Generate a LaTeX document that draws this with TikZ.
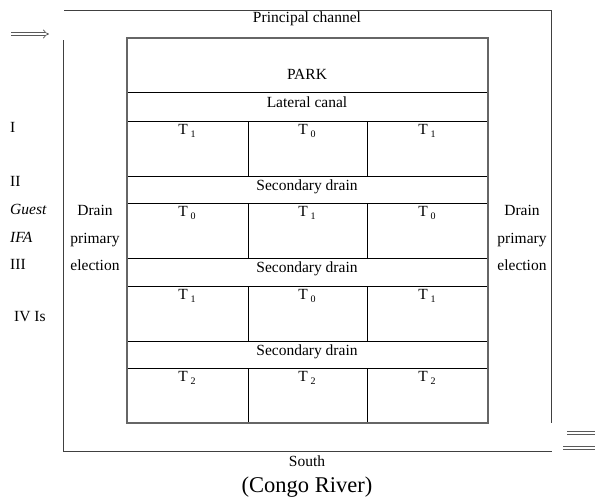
\documentclass[tikz,border=0pt]{standalone}
\usepackage{fontspec}
\setmainfont{Liberation Serif}
\usetikzlibrary{arrows.meta}
\tikzstyle{txt} = [inner sep=0pt, font=\fontsize{15.5}{18}\selectfont]
\tikzstyle{side} = [txt, align=center, font=\fontsize{15.5}{27.5}\selectfont]
\tikzstyle{channel} = [draw=black!75, line width=0.9pt]
\tikzstyle{flow} = [draw=black!65, double, double distance=2.4pt, line width=0.7pt]
\newcommand{\Tsub}[1]{T\,\raisebox{-2.5pt}{\fontsize{10}{10}\selectfont #1}}

\begin{document}
\begin{tikzpicture}[x=1pt, y=-1pt]
  \useasboundingbox (0,0) rectangle (595,499);

  % Channels around the park
  \draw[channel] (64,10) -- (551,10) -- (551,423);
  \draw[channel] (63,40) -- (63,451) -- (552,451);

  % Flow arrows
  \coordinate (in1) at (11,34);
  \coordinate (in2) at (49,34);
  \coordinate (out1) at (567,433);
  \coordinate (out2) at (600,433);
  \coordinate (out3) at (563,448);
  \coordinate (out4) at (600,448);
  \draw[flow, -{Implies}] (in1) -- (in2);
  \draw[flow] (out1) -- (out2);
  \draw[flow] (out3) -- (out4);

  % Park outline and rows
  \draw[line width=0.8pt] (127,92) -- (488,92);
  \foreach \y in {121,176,203,258,286,341,368}
    \draw[line width=0.8pt] (127,\y) -- (488,\y);
  \foreach \y in {121,203,286,368}{
    \draw[line width=0.8pt] (248,\y) -- (248,\y+55);
    \draw[line width=0.8pt] (367,\y) -- (367,\y+55);
  }
  \draw[draw=black!60, line width=1.2pt] (127,38) rectangle (488,423);

  % Plots
  \foreach \y/\a/\b/\c [count=\r] in {131/1/0/1, 213/0/1/0, 296/1/0/1, 378/2/2/2}{
    \node[txt] (p\r a) at (187,\y) {\Tsub{\a}};
    \node[txt] (p\r b) at (307,\y) {\Tsub{\b}};
    \node[txt] (p\r c) at (427,\y) {\Tsub{\c}};
  }

  % Labels
  \node[txt] (princ) at (307,19) {Principal channel};
  \node[txt] (park) at (307,74) {PARK};
  \node[txt] (lat) at (307,102) {Lateral canal};
  \node[txt] (sec1) at (307,187) {Secondary drain};
  \node[txt] (sec2) at (307,269) {Secondary drain};
  \node[txt] (sec3) at (307,352) {Secondary drain};
  \node[txt] (south) at (307,461) {South};
  \node[txt, font=\fontsize{22.5}{26}\selectfont] (congo) at (307,487) {(Congo River)};

  % Drains on both sides
  \node[side] (dleft) at (95,238) {Drain\\primary\\election};
  \node[side] (dright) at (522,238) {Drain\\primary\\election};

  % Blocks
  \node[txt, anchor=west] (b1) at (10,127) {I};
  \node[txt, anchor=west] (b2) at (10,181) {II};
  \node[txt, anchor=west] (gst) at (10,209) {\itshape Guest};
  \node[txt, anchor=west] (ifa) at (10,237) {\itshape IFA};
  \node[txt, anchor=west] (b3) at (10,264) {III};
  \node[txt, anchor=west] (b4) at (14,317) {IV Is};
\end{tikzpicture}
\end{document}
